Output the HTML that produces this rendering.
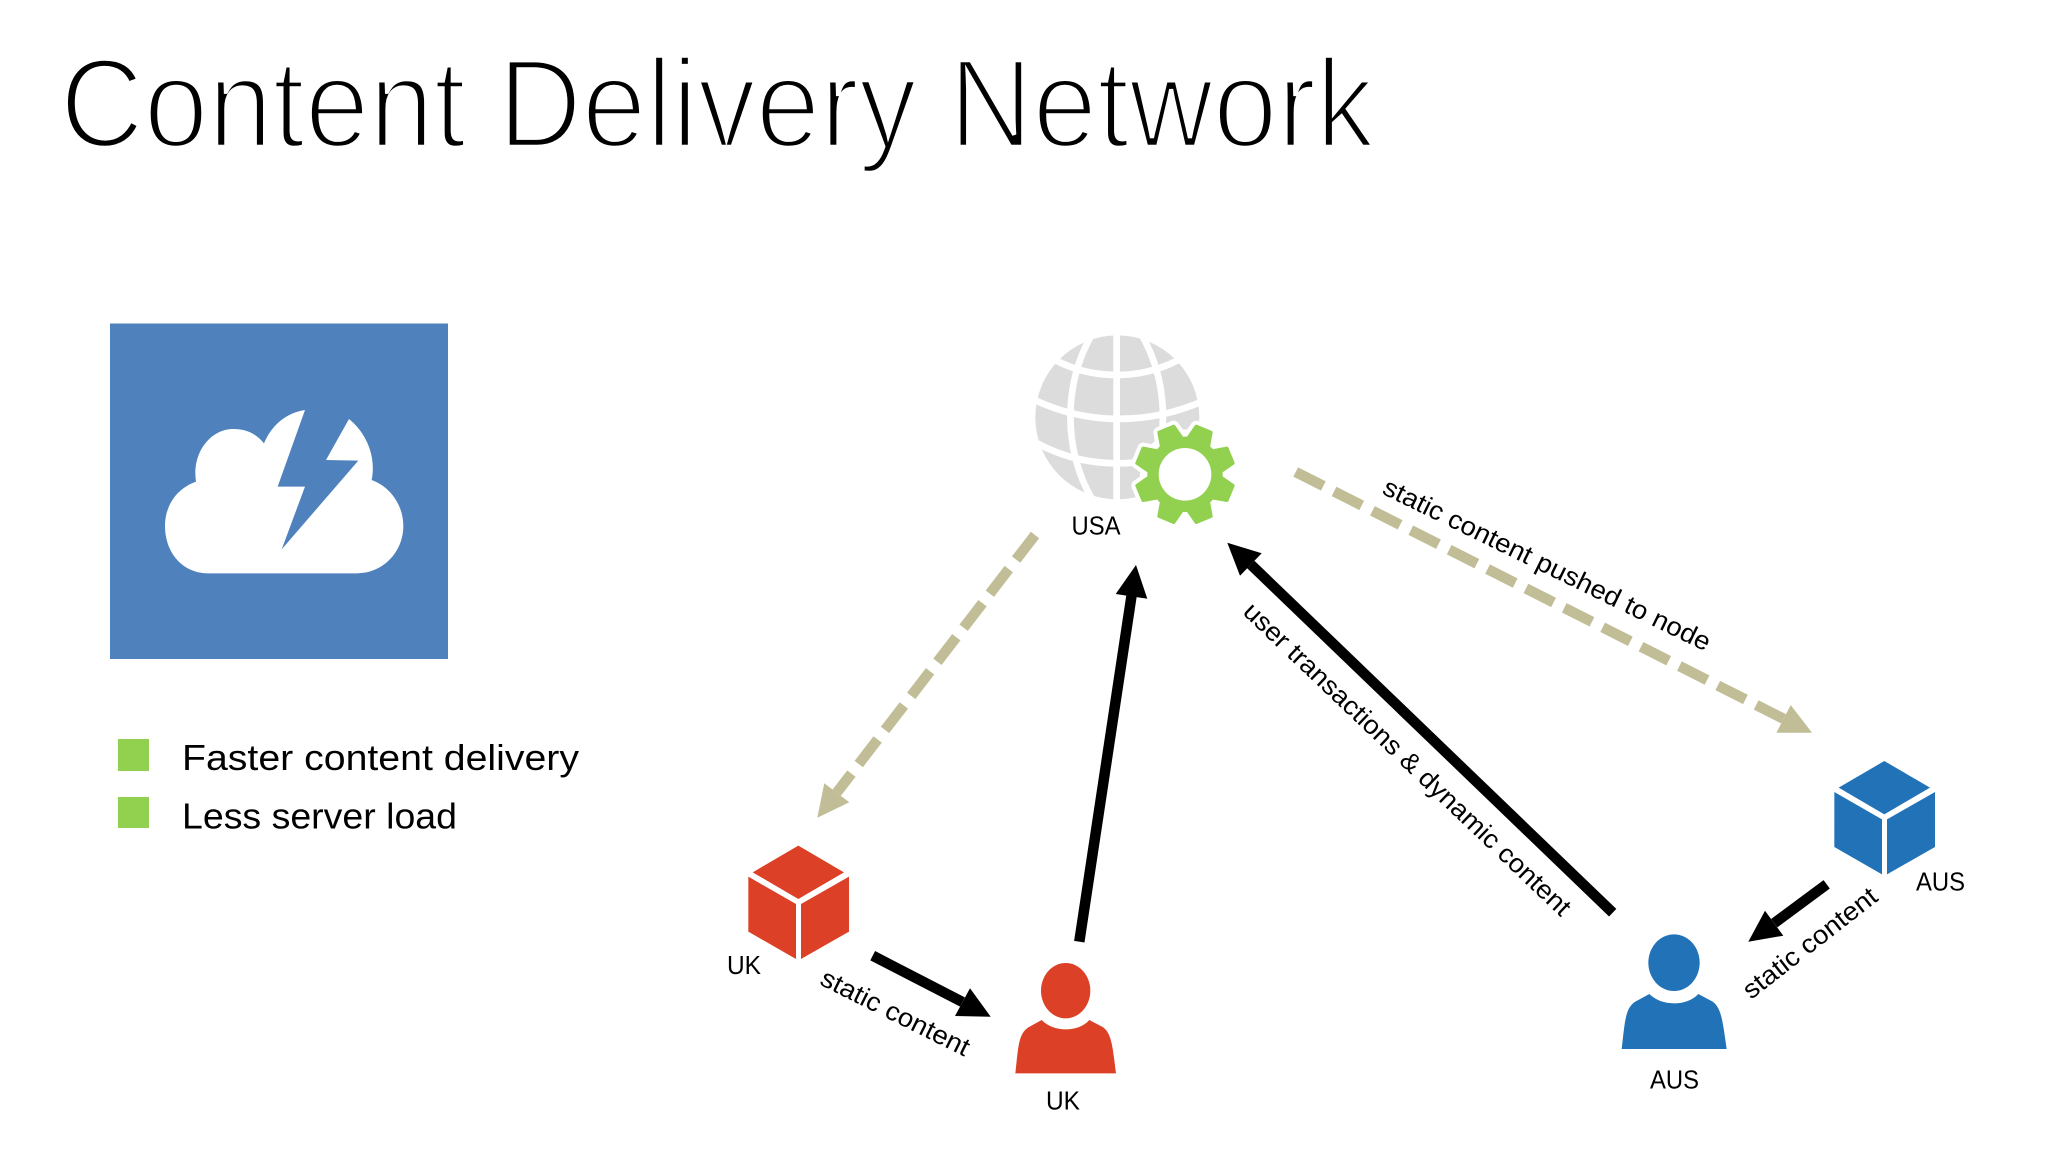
<!DOCTYPE html>
<html>
<head>
<meta charset="utf-8">
<title>Content Delivery Network</title>
<style>
html,body{margin:0;padding:0;background:#fff;width:2048px;height:1152px;overflow:hidden}
svg{display:block}
text{font-family:"Liberation Sans",Arial,sans-serif;fill:#000}
</style>
</head>
<body>
<svg width="2048" height="1152" viewBox="0 0 2048 1152" xmlns="http://www.w3.org/2000/svg">
<rect width="2048" height="1152" fill="#fff"/>

<text x="60" y="147" font-size="126" textLength="1314" lengthAdjust="spacingAndGlyphs" stroke="#fff" stroke-width="4.5">Content Delivery Network</text>

<rect x="110" y="323.5" width="338" height="335.5" fill="#4f81bd"/>
<g transform="translate(90,310) scale(.33333)">
<path fill="#fff" d="M355 790 C275 790 225 725 225 648 C225 585 262 535 318 515 C305 430 360 357 430 357 C470 357 500 372 522 400 C545 345 590 308 645 300 L563 530 L645 530 L575 718 L805 452 L708 450 L777 327 C825 365 860 435 845 510 C900 530 940 585 940 648 C940 725 880 790 800 790 Z"/>
</g>

<rect x="118" y="739" width="31" height="32" fill="#92d050"/>
<rect x="118" y="797" width="31" height="31" fill="#92d050"/>
<text x="182" y="770" font-size="36" textLength="397" lengthAdjust="spacingAndGlyphs">Faster content delivery</text>
<text x="182" y="828.5" font-size="36" textLength="275" lengthAdjust="spacingAndGlyphs">Less server load</text>

<!-- Globe + gear -->
<g transform="translate(1000,300) scale(.33333)">
<circle cx="352" cy="352" r="246" fill="#dcdcdc"/>
<g fill="none" stroke="#fff" stroke-width="20">
<path d="M350 100 V600"/>
<path d="M275 105 C190 250 190 450 275 595"/>
<path d="M425 105 C510 250 510 450 425 595"/>
<path d="M165 180 C280 240 420 240 535 180"/>
<path d="M100 298 C260 375 440 375 605 305"/>
<path d="M112 430 C260 510 440 510 600 430"/>
</g>
<g transform="translate(555,523)">
<g fill="#fff" stroke="#fff" stroke-width="34" stroke-linejoin="round">
<circle r="118"/>
<polygon transform="rotate(22.5)" points="-24,-146 24,-146 34,-100 -34,-100"/>
<polygon transform="rotate(67.5)" points="-24,-146 24,-146 34,-100 -34,-100"/>
<polygon transform="rotate(112.5)" points="-24,-146 24,-146 34,-100 -34,-100"/>
<polygon transform="rotate(157.5)" points="-24,-146 24,-146 34,-100 -34,-100"/>
<polygon transform="rotate(202.5)" points="-24,-146 24,-146 34,-100 -34,-100"/>
<polygon transform="rotate(247.5)" points="-24,-146 24,-146 34,-100 -34,-100"/>
<polygon transform="rotate(292.5)" points="-24,-146 24,-146 34,-100 -34,-100"/>
<polygon transform="rotate(337.5)" points="-24,-146 24,-146 34,-100 -34,-100"/>
</g>
<g fill="#92d050" stroke="#92d050" stroke-width="10" stroke-linejoin="round">
<polygon transform="rotate(22.5)" points="-24,-146 24,-146 34,-100 -34,-100"/>
<polygon transform="rotate(67.5)" points="-24,-146 24,-146 34,-100 -34,-100"/>
<polygon transform="rotate(112.5)" points="-24,-146 24,-146 34,-100 -34,-100"/>
<polygon transform="rotate(157.5)" points="-24,-146 24,-146 34,-100 -34,-100"/>
<polygon transform="rotate(202.5)" points="-24,-146 24,-146 34,-100 -34,-100"/>
<polygon transform="rotate(247.5)" points="-24,-146 24,-146 34,-100 -34,-100"/>
<polygon transform="rotate(292.5)" points="-24,-146 24,-146 34,-100 -34,-100"/>
<polygon transform="rotate(337.5)" points="-24,-146 24,-146 34,-100 -34,-100"/>
</g>
<circle r="113" fill="#92d050"/>
<circle r="79" fill="#fff"/>
</g>
</g>
<text x="1071.5" y="534.5" font-size="26" textLength="49" lengthAdjust="spacingAndGlyphs">USA</text>

<!-- UK cube -->
<g transform="translate(720,830) scale(.33333)" fill="#dc4027">
<polygon points="235,47 372,127 235,207 98,127"/>
<polygon points="85,140 228,222 228,387 85,305"/>
<polygon points="243,222 387,140 387,305 243,387"/>
</g>
<text x="727" y="974" font-size="26" textLength="34" lengthAdjust="spacingAndGlyphs">UK</text>

<!-- AUS cube -->
<g transform="translate(1600,740) scale(.33333)" fill="#2272b8">
<polygon points="853,63 990,143 853,223 716,143"/>
<polygon points="703,156 846,238 846,403 703,321"/>
<polygon points="861,238 1005,156 1005,321 861,403"/>
</g>
<text x="1916" y="890.5" font-size="26" textLength="49" lengthAdjust="spacingAndGlyphs">AUS</text>

<!-- UK person -->
<g transform="translate(720,830) scale(.33333)" fill="#dc4027">
<ellipse cx="1037" cy="482" rx="74" ry="83"/>
<path d="M886 730 C895 650 895 612 925 592 L965 570 C985 590 1010 598 1037 598 C1065 598 1090 590 1108 570 L1150 592 C1175 612 1178 650 1188 730 Z"/>
</g>
<text x="1046" y="1109.5" font-size="26" textLength="34" lengthAdjust="spacingAndGlyphs">UK</text>

<!-- AUS person -->
<g transform="translate(1600,740) scale(.33333)" fill="#2272b8">
<ellipse cx="222" cy="668" rx="77" ry="85"/>
<path d="M65 927 C75 845 75 805 106 785 L148 762 C168 782 195 790 222 790 C250 790 276 782 295 762 L338 785 C365 805 368 845 380 927 Z"/>
</g>
<text x="1650" y="1088.5" font-size="26" textLength="49" lengthAdjust="spacingAndGlyphs">AUS</text>

<!-- Dashed arrows -->
<g fill="none" stroke="#c1be97" stroke-width="10.5" stroke-dasharray="31 12">
<path d="M1035 535 L836.7 792.7"/>
<path d="M1295.7 472 L1783.6 718.8"/>
</g>
<polygon fill="#c1be97" points="817.3,817.7 824.3,783.3 849.3,802.3"/>
<polygon fill="#c1be97" points="1812,732.7 1790.7,705 1776.4,732.7"/>

<!-- Black arrows -->
<g fill="none" stroke="#000" stroke-width="10.5">
<path d="M1079.3 941.7 L1131.5 596"/>
<path d="M872.7 955.7 L962.5 1002"/>
<path d="M1826.7 884.3 L1774.2 923.2"/>
<path d="M1612.7 912.7 L1250.8 564.5"/>
</g>
<polygon points="1136,565 1115.7,594 1147.3,598.7"/>
<polygon points="990.7,1016.7 970,988.3 955,1016"/>
<polygon points="1748.3,941.7 1765,910.7 1783.3,935.7"/>
<polygon points="1227.3,542.7 1261.7,553.3 1240,575.7"/>

<!-- Rotated labels -->
<text transform="translate(818.5,984) rotate(26.5)" font-size="26" textLength="163" lengthAdjust="spacingAndGlyphs">static content</text>
<text transform="translate(1751,1000) rotate(-38)" font-size="26" textLength="163" lengthAdjust="spacingAndGlyphs">static content</text>
<text transform="translate(1241.7,613.3) rotate(43.6)" font-size="26" textLength="441" lengthAdjust="spacingAndGlyphs">user transactions &amp; dynamic content</text>
<text transform="translate(1381,493.3) rotate(26)" font-size="26" textLength="361" lengthAdjust="spacingAndGlyphs">static content pushed to node</text>
</svg>
</body>
</html>
